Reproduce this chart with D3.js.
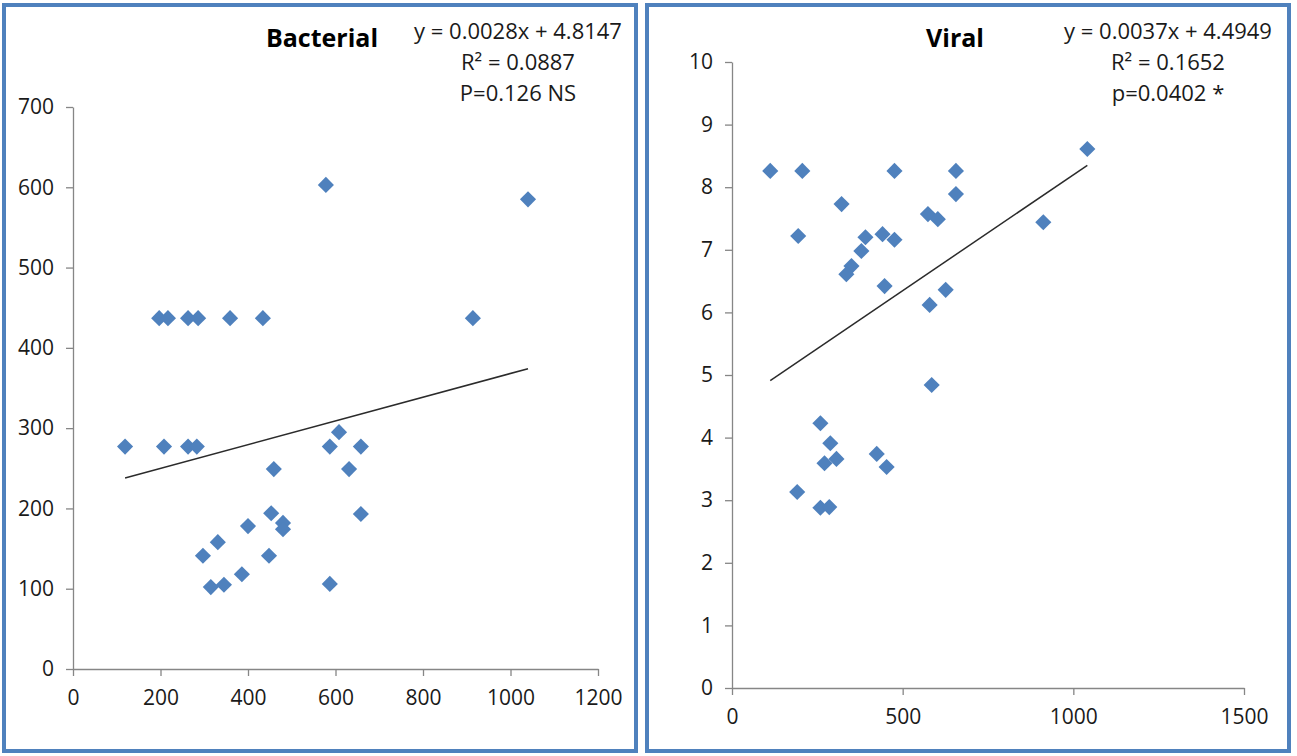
<!DOCTYPE html>
<html>
<head>
<meta charset="utf-8">
<script src="https://cdn.jsdelivr.net/npm/d3@7"></script>
<style>
  body { margin: 0; background: #fff; }
  svg { display: block; font-family: "Open Sans", Lato, sans-serif; }
</style>
</head>
<body>
<svg width="1297" height="756"></svg>
<script>
// Bacterial panel values
const bacterialX = [119, 197, 217, 208, 263, 286, 263, 283, 359, 434, 297, 315, 331, 345, 386,
  400, 448, 453, 459, 480, 480, 578, 587, 587, 608, 631, 658, 658, 914, 1040];
const bacterialY = [277, 437, 437, 277, 437, 437, 277, 277, 437, 437, 141, 102, 158, 105, 118,
  178, 141, 194, 249, 182, 174, 603, 277, 106, 295, 249, 277, 193, 437, 585];
const bacterialTrend = [[119, 238], [1040, 374]];
const bacterialXTicks = [0, 200, 400, 600, 800, 1000, 1200];
const bacterialYTicks = [0, 100, 200, 300, 400, 500, 600, 700];
const bacterialText = ["y = 0.0028x + 4.8147", "R² = 0.0887", "P=0.126 NS"];

// Viral panel values
const viralX = [112, 206, 476, 656, 656, 321, 574, 603, 194, 391, 441, 476, 379, 350, 335,
  447, 626, 579, 585, 912, 1041, 259, 288, 306, 271, 424, 453, 191, 259, 285];
const viralY = [8.26, 8.26, 8.26, 8.26, 7.89, 7.73, 7.57, 7.49, 7.22, 7.20, 7.25, 7.16, 6.98, 6.74, 6.61,
  6.42, 6.36, 6.12, 4.84, 7.44, 8.61, 4.23, 3.91, 3.66, 3.59, 3.74, 3.53, 3.13, 2.88, 2.89];
const viralTrend = [[112, 4.91], [1041, 8.35]];
const viralXTicks = [0, 500, 1000, 1500];
const viralYTicks = [0, 1, 2, 3, 4, 5, 6, 7, 8, 9, 10];
const viralText = ["y = 0.0037x + 4.4949", "R² = 0.1652", "p=0.0402 *"];

const svg = d3.select("svg");
const axisColor = "#868686";
const markerColor = "#4F81BD";
const font = "'Open Sans', Lato, sans-serif";

const panels = [
  {
    title: "Bacterial", xs: bacterialX, ys: bacterialY, trend: bacterialTrend,
    xTicks: bacterialXTicks, yTicks: bacterialYTicks, lines: bacterialText,
    box: [2, 3, 636, 750], xRange: [73, 598], yRange: [669, 107],
    titleX: 322, textX: 518
  },
  {
    title: "Viral", xs: viralX, ys: viralY, trend: viralTrend,
    xTicks: viralXTicks, yTicks: viralYTicks, lines: viralText,
    box: [645, 3, 646, 750], xRange: [732, 1244], yRange: [688, 62],
    titleX: 955, textX: 1168
  }
];

const drawPanel = (p) => {
  const g = svg.append("g");

  g.append("rect")
    .attr("x", p.box[0] + 2).attr("y", p.box[1] + 2)
    .attr("width", p.box[2] - 4).attr("height", p.box[3] - 4)
    .attr("fill", "#fff")
    .attr("stroke", markerColor)
    .attr("stroke-width", 4);

  const x = d3.scaleLinear()
    .domain(d3.extent(p.xTicks))
    .range(p.xRange);
  const y = d3.scaleLinear()
    .domain(d3.extent(p.yTicks))
    .range(p.yRange);

  const yAxis = g.append("g")
    .attr("transform", `translate(${p.xRange[0]},0)`)
    .call(d3.axisLeft(y).tickValues(p.yTicks).tickFormat(d3.format("d"))
      .tickSize(7).tickSizeOuter(0).tickPadding(12));
  const xAxis = g.append("g")
    .attr("transform", `translate(0,${p.yRange[0]})`)
    .call(d3.axisBottom(x).tickValues(p.xTicks).tickFormat(d3.format("d"))
      .tickSize(7).tickSizeOuter(0).tickPadding(14));

  [xAxis, yAxis].forEach((a) => {
    a.select(".domain").attr("stroke", axisColor).attr("stroke-width", 1.3);
    a.selectAll(".tick line").attr("stroke", axisColor).attr("stroke-width", 1.3);
    a.selectAll(".tick text")
      .attr("fill", "#1a1a1a")
      .style("font-size", "21px")
      .style("font-family", font);
  });

  // trend line
  g.append("path")
    .datum(p.trend)
    .attr("d", d3.line().x((d) => x(d[0])).y((d) => y(d[1])))
    .attr("stroke", "#2b2b2b")
    .attr("stroke-width", 1.5)
    .attr("fill", "none");

  // markers
  const pts = p.xs.map((v, i) => [v, p.ys[i]]);
  g.selectAll(".pt")
    .data(pts)
    .enter()
    .append("path")
    .attr("class", "pt")
    .attr("d", d3.symbol().type(d3.symbolSquare).size(130))
    .attr("transform", (d) => `translate(${x(d[0])},${y(d[1])}) rotate(45)`)
    .attr("fill", markerColor);

  g.append("text")
    .attr("x", p.titleX)
    .attr("y", 47)
    .attr("text-anchor", "middle")
    .style("font-size", "25px")
    .style("font-weight", "bold")
    .text(p.title);

  g.selectAll(".eq")
    .data(p.lines)
    .enter()
    .append("text")
    .attr("class", "eq")
    .attr("x", p.textX)
    .attr("y", (d, i) => 39 + i * 31)
    .attr("text-anchor", "middle")
    .style("font-size", "22px")
    .attr("fill", "#1a1a1a")
    .text((d) => d);
};

panels.forEach(drawPanel);
</script>
</body>
</html>
